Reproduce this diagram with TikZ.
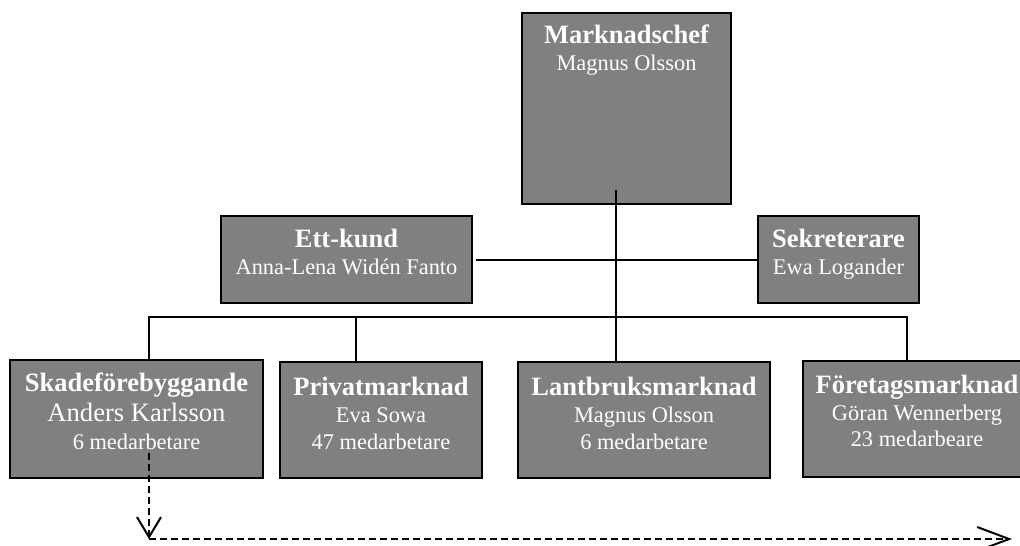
\documentclass[tikz,border=0pt]{standalone}
\usepackage{fontspec}
\setmainfont{Liberation Serif}
\usetikzlibrary{arrows.meta}
\definecolor{boxgray}{HTML}{808080}
\newcommand\hd{\bfseries\fontsize{26.5}{27}\selectfont}
\newcommand\bigname{\fontsize{26.6}{27}\selectfont}

\begin{document}
\begin{tikzpicture}[x=1pt,y=-1pt,
  orgbox/.style={draw=black, line width=2.5pt, fill=boxgray, inner sep=0pt, outer sep=0pt},
  orgtext/.style={anchor=north, inner sep=0pt, align=center, text=white,
    font=\fontsize{22.4}{27}\selectfont},
  link/.style={draw=black, line width=2pt},
  dashlink/.style={draw=black, line width=2pt, dash pattern=on 7pt off 4pt}
]
\useasboundingbox (0,0) rectangle (1020,546);
\clip (0,0) rectangle (1020,546);

% boxes
\node[orgbox, minimum width=209pt, minimum height=191pt] (mc) at (626.5,108.5) {};
\node[orgbox, minimum width=251pt, minimum height=87pt] (ek) at (346.5,259.5) {};
\node[orgbox, minimum width=161pt, minimum height=87pt] (sk) at (838.5,259.5) {};
\node[orgbox, minimum width=253pt, minimum height=118pt] (sf) at (136.5,419) {};
\node[orgbox, minimum width=202pt, minimum height=116pt] (pm) at (381,420) {};
\node[orgbox, minimum width=252pt, minimum height=116pt] (lm) at (644,420) {};
\node[orgbox, minimum width=228pt, minimum height=116pt] (fm) at (917,419) {};

% texts
\node[orgtext] (mc-t) at (626.5,24.7) {{\hd Marknadschef}\\ Magnus Olsson};
\node[orgtext] (ek-t) at (346.5,229) {{\hd Ett-kund}\\ Anna-Lena Widén Fanto};
\node[orgtext] (sk-t) at (838.5,229) {{\hd Sekreterare}\\ Ewa Logander};
\node[orgtext] (sf-t) at (136.5,372.7) {{\hd Skadeförebyggande}\\[3pt] {\bigname Anders Karlsson}\\[1pt] 6 medarbetare};
\node[orgtext] (pm-t) at (381,377) {{\hd Privatmarknad}\\ Eva Sowa\\ 47 medarbetare};
\node[orgtext] (lm-t) at (644,377) {{\hd Lantbruksmarknad}\\ Magnus Olsson\\ 6 medarbetare};
\node[orgtext] (fm-t) at (917,375) {{\hd Företagsmarknad}\\ Göran Wennerberg\\[-1pt] 23 medarbeare};

% connector anchors
\coordinate (mcfoot) at (616,190);
\coordinate (busL) at (149,317);
\coordinate (busR) at (907,317);
\coordinate (busP) at (356,317);
\coordinate (dstart) at (149,453);
\coordinate (dcorner) at (149,539);
\coordinate (dend) at (1012,539);

% solid connectors
\draw[link] (mcfoot) -- (mcfoot |- lm.north);
\draw[link] ([xshift=4pt]ek.east) -- (sk.west);
\draw[link] (busL |- sf.north) -- (busL) -- (busR) -- (busR |- fm.north);
\draw[link] (busP) -- (busP |- pm.north);

% dashed arrows
\draw[dashlink, -{Straight Barb[length=20pt,width=24pt]}] (dstart) -- (dcorner);
\draw[dashlink, -{Straight Barb[length=32pt,width=24pt]}] (dcorner) -- (dend);
\end{tikzpicture}
\end{document}
